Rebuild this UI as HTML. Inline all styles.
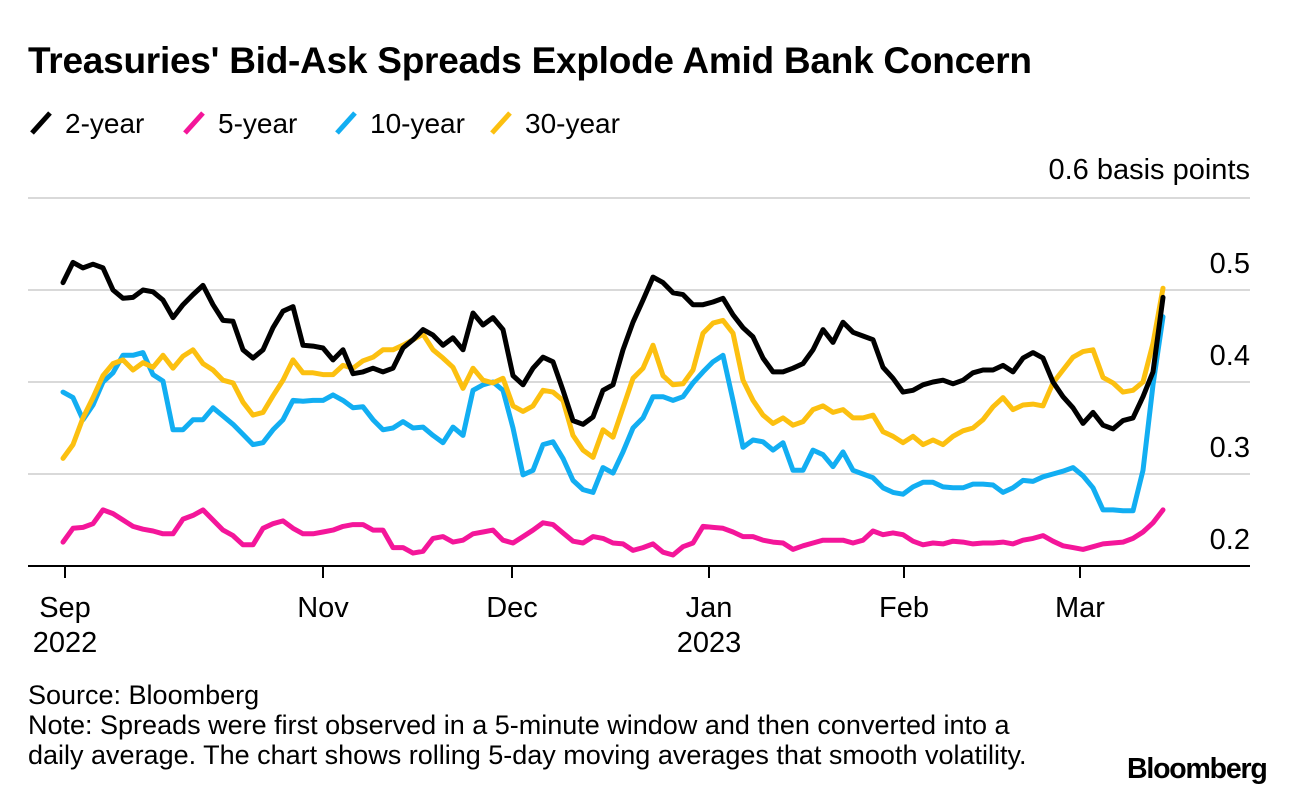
<!DOCTYPE html>
<html><head><meta charset="utf-8">
<style>
html,body{margin:0;padding:0;background:#fff;}
body{width:1296px;height:796px;overflow:hidden;position:relative;font-family:"Liberation Sans",sans-serif;color:#000;}
.t{position:absolute;white-space:nowrap;}
</style></head>
<body>
<div class="t" style="left:28px;top:40px;font-size:37px;font-weight:bold;letter-spacing:-0.25px;">Treasuries' Bid-Ask Spreads Explode Amid Bank Concern</div>
<svg id="chart" width="1296" height="796" style="position:absolute;left:0;top:0"></svg>
<div class="t" style="left:28px;top:680px;font-size:27px;line-height:30px;">Source: Bloomberg<br>Note: Spreads were first observed in a 5-minute window and then converted into a<br>daily average. The chart shows rolling 5-day moving averages that smooth volatility.</div>
<div class="t" style="left:1127px;top:753px;font-size:28.5px;font-weight:bold;letter-spacing:-1.2px;">Bloomberg</div>
<script>
const seriesNames = ["2-year","5-year","10-year","30-year"];
const seriesColors = ["#000000","#f4169a","#12aef2","#fcc010"];
const yTicks = [0.2,0.3,0.4,0.5,0.6];
const xTickLabels = ["Sep","Nov","Dec","Jan","Feb","Mar"];
const xTickYears = ["2022","","","2023","",""];
const xTickIdx = [0.2,26,44.9,64.6,84.1,101.7];
const twoYear = [.508,.530,.524,.528,.524,.500,.491,.492,.500,.498,.489,.470,.484,.495,.505,.484,.467,.466,.435,.426,.435,.459,.477,.482,.440,.439,.437,.424,.435,.409,.411,.415,.411,.415,.437,.446,.457,.451,.440,.448,.435,.475,.462,.470,.457,.407,.397,.415,.427,.422,.391,.358,.354,.362,.391,.397,.435,.465,.489,.514,.508,.497,.495,.484,.484,.487,.491,.473,.459,.449,.426,.411,.411,.415,.420,.435,.457,.443,.465,.454,.450,.446,.416,.404,.389,.391,.397,.400,.402,.398,.402,.410,.413,.413,.418,.411,.426,.432,.426,.400,.384,.372,.355,.367,.353,.349,.358,.361,.384,.411,.492];
const fiveYear = [.226,.241,.242,.246,.261,.257,.250,.243,.240,.238,.235,.235,.251,.255,.261,.250,.239,.233,.223,.223,.241,.246,.249,.241,.235,.235,.237,.239,.243,.245,.245,.239,.239,.220,.220,.214,.216,.230,.232,.226,.228,.235,.237,.239,.228,.225,.232,.239,.247,.245,.236,.227,.225,.232,.230,.225,.224,.217,.220,.224,.215,.212,.221,.225,.243,.242,.241,.237,.232,.232,.228,.226,.225,.218,.222,.225,.228,.228,.228,.225,.228,.238,.234,.236,.234,.227,.223,.225,.224,.227,.226,.224,.225,.225,.226,.224,.228,.230,.233,.227,.222,.220,.218,.221,.224,.225,.226,.230,.237,.247,.261];
const tenYear = [.389,.383,.359,.375,.400,.410,.429,.429,.432,.408,.401,.348,.348,.359,.359,.372,.363,.354,.343,.332,.334,.348,.359,.380,.379,.380,.380,.386,.380,.372,.373,.359,.348,.350,.357,.350,.351,.342,.334,.351,.342,.391,.397,.400,.391,.350,.299,.304,.332,.335,.317,.293,.283,.280,.307,.301,.324,.350,.361,.384,.384,.380,.384,.399,.411,.422,.429,.380,.329,.337,.335,.326,.334,.304,.304,.326,.321,.308,.324,.304,.300,.296,.285,.280,.278,.286,.291,.291,.286,.285,.285,.289,.289,.288,.280,.285,.293,.292,.297,.300,.303,.307,.298,.285,.261,.261,.260,.260,.304,.397,.471];
const thirtyYear = [.317,.332,.361,.383,.407,.420,.424,.413,.421,.416,.429,.415,.428,.435,.420,.413,.402,.399,.378,.364,.367,.385,.402,.424,.410,.410,.408,.408,.418,.415,.423,.427,.435,.435,.440,.446,.452,.435,.426,.416,.393,.415,.402,.399,.404,.374,.368,.374,.391,.389,.380,.342,.326,.318,.348,.340,.372,.404,.415,.440,.407,.397,.398,.413,.453,.464,.467,.453,.402,.380,.364,.355,.361,.353,.357,.370,.374,.367,.370,.361,.361,.364,.346,.341,.334,.341,.332,.337,.332,.341,.347,.350,.359,.373,.383,.370,.375,.376,.374,.399,.413,.427,.433,.435,.405,.399,.389,.391,.400,.442,.502];
const allSeries = [twoYear,fiveYear,tenYear,thirtyYear];

const NS = "http://www.w3.org/2000/svg";
const svg = document.getElementById('chart');
const X0 = 63, X1 = 1163, N = twoYear.length;
const xScale = i => X0 + (X1 - X0) * i / (N - 1);
const yScale = v => 566 - (v - 0.2) * 920;
function mk(tag, attrs, parent){const e=document.createElementNS(NS,tag);for(const k in attrs)e.setAttribute(k,attrs[k]);(parent||svg).appendChild(e);return e;}

yTicks.forEach(v=>{
  if(v>0.2){
    const g = mk('line',{x1:28,x2:1250,y1:yScale(v),y2:yScale(v),stroke:'#d9d9d9','stroke-width':2});
    
    
  }
  const t = mk('text',{x:1250,y:yScale(v)-17,'text-anchor':'end','font-size':29,'font-family':'Liberation Sans, sans-serif'});
  t.textContent = v===0.6 ? '0.6 basis points' : v.toFixed(1);
  if(v===0.6) t.setAttribute('y',yScale(v)-19);
  
  
});
const base = mk('line',{x1:28,x2:1250,y1:566,y2:566,stroke:'#000','stroke-width':2});


xTickIdx.forEach((ix,k)=>{
  const x = xScale(ix);
  const tk = mk('line',{x1:x,x2:x,y1:566,y2:578,stroke:'#000','stroke-width':2});
  
  
  const t = mk('text',{x:x,y:617,'text-anchor':'middle','font-size':29,'font-family':'Liberation Sans, sans-serif'});
  t.textContent = xTickLabels[k];
  
  
  if(xTickYears[k]){
    const y = mk('text',{x:x,y:652,'text-anchor':'middle','font-size':29,'font-family':'Liberation Sans, sans-serif'});
    y.textContent = xTickYears[k];
    
    
  }
});
[1,2,3,0].forEach(s=>{
  const d = allSeries[s].map((v,i)=>(i?'L':'M')+xScale(i).toFixed(1)+','+yScale(v).toFixed(1)).join(' ');
  const p = mk('path',{d:d,fill:'none',stroke:seriesColors[s],'stroke-width':5,'stroke-linejoin':'round','stroke-linecap':'round'});
  
  
});
const legX = [30,183,335,490];
seriesNames.forEach((n,s)=>{
  const x = legX[s];
  const ic = mk('line',{x1:x+2,y1:133,x2:x+20,y2:113,stroke:seriesColors[s],'stroke-width':5,'stroke-linecap':'butt'});
  
  
  const t = mk('text',{x:x+35,y:133,'font-size':28,'font-family':'Liberation Sans, sans-serif'});
  t.textContent = n;
  
  
});
</script>
</body></html>
